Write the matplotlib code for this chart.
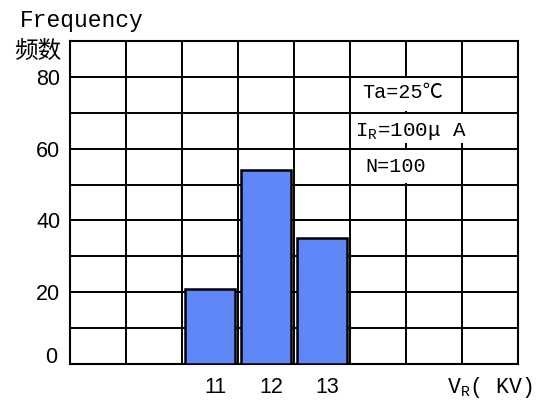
"""Breakdown-voltage frequency histogram (V_R distribution, N=100)."""

import matplotlib

matplotlib.use("Agg")
import matplotlib.pyplot as plt
from matplotlib.patches import Rectangle
from matplotlib.transforms import ScaledTranslation
import numpy as np

# data
voltages = [11, 12, 13]          # V_R (kV)
counts = [21, 54, 35]            # frequency
y_labels = ["0", "", "20", "", "40", "", "60", "", "80", ""]
x_labels = ["11", "12", "13"]

W, H = 544, 403
fig = plt.figure(figsize=(W / 100, H / 100), dpi=100)
ax = fig.add_axes([70 / W, 1 - 364.3 / H, 448 / W, 323.6 / H])

ax.set_xlim(8.5, 16.5)
ax.set_ylim(0, 90)

# grid: every 10 counts, one column per kV
ax.set_yticks(np.arange(0, 91, 10))
ax.set_yticklabels(y_labels, family="Liberation Sans", fontsize=15.5)
ax.set_xticks(np.arange(8.5, 16.6, 1), minor=True)
ax.set_xticks(voltages)
ax.set_xticklabels(x_labels, family="Liberation Sans", fontsize=15.5)
ax.tick_params(which="both", length=0)
ax.tick_params(axis="y", pad=7)
ax.tick_params(axis="x", pad=9)
ax.grid(which="major", axis="y", color="black", lw=1.4)
ax.grid(which="minor", axis="x", color="black", lw=1.4)
ax.set_axisbelow(True)
for sp in ax.spines.values():
    sp.set_linewidth(1.5)

# labels sit a little off their ticks in the original
nudge_x = ScaledTranslation(5 / 100, 0, fig.dpi_scale_trans)
for lab in ax.get_xticklabels():
    lab.set_transform(lab.get_transform() + nudge_x)
zero_lab = ax.get_yticklabels()[0]
zero_lab.set_transform(zero_lab.get_transform()
                       + ScaledTranslation(-3 / 100, 9 / 100, fig.dpi_scale_trans))

ax.bar(voltages, counts, width=0.91, color="#5f87f7", edgecolor="black",
       linewidth=1.8, zorder=3)

# blank out grid behind the test-condition notes
for x0, y0, y1 in [(14.5, 70.4, 79.6), (14.5, 61.5, 69.6), (15.5, 61.5, 69.6),
                   (14.5, 50.4, 59.5)]:
    ax.add_patch(Rectangle((x0 - 0.1, y0), 0.2, y1 - y0, color="white",
                           lw=0, zorder=2))

note = dict(family=["Liberation Mono", "Noto Sans CJK SC"], va="center",
            ha="left", zorder=4)
ax.text(13.71, 75.6, "Ta=25℃", fontsize=14.5, **note)
ax.text(13.59, 64.8, r"I$_\mathregular{R}$=100μ A", fontsize=15,
        family="Liberation Mono", va="center", ha="left", zorder=4)
ax.text(13.77, 55.1, "N=100", fontsize=14.5, **note)

fig.text(20 / W, 1 - 21 / H, "Frequency", family="Liberation Mono",
         fontsize=16.5, va="center", ha="left")
fig.text(14 / W, 1 - 51 / H, "频数", family="Noto Sans CJK SC",
         fontsize=17, va="center", ha="left")
fig.text(447 / W, 1 - 387 / H, r"V$_\mathregular{R}$( KV)",
         family="Liberation Mono", fontsize=15.5, va="center", ha="left")

fig.savefig("out.png", dpi=100)
plt.close(fig)
